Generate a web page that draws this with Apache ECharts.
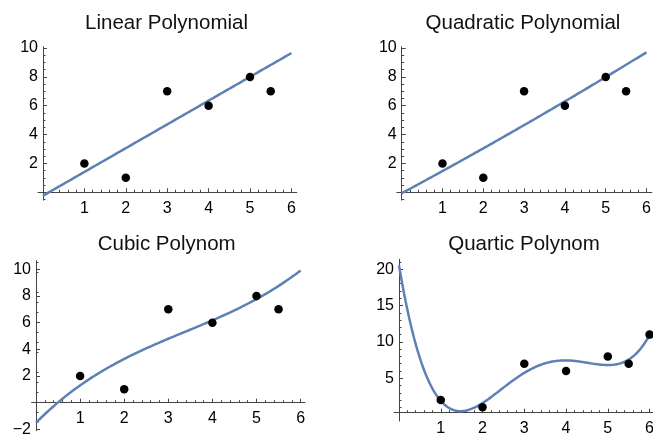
<!DOCTYPE html>
<html>
<head>
<meta charset="utf-8">
<script src="https://cdn.jsdelivr.net/npm/echarts@6/dist/echarts.min.js"></script>
<style>
  html, body { margin: 0; padding: 0; background: #ffffff; }
  #chart { width: 653px; height: 437px; }
</style>
</head>
<body>
<div id="chart"></div>
<script>
// Observed points (x, y)
const pointX = [1, 2, 3, 4, 5, 5.5, 6];
const pointY = [2, 1, 7, 6, 8, 7, 11];

// Panel titles and fit degrees
const panelTitles = ['Linear Polynomial', 'Quadratic Polynomial', 'Cubic Polynom', 'Quartic Polynom'];
const fitDegrees = [1, 2, 3, 4];

// Tick labels
const xTickValues = [1, 2, 3, 4, 5, 6];
const yTicksLinear = [2, 4, 6, 8, 10];
const yTicksQuadratic = [2, 4, 6, 8, 10];
const yTicksCubic = [-2, 2, 4, 6, 8, 10];
const yTicksQuartic = [5, 10, 15, 20];

// Least-squares polynomial fit, coefficients from constant term upward
function polyFit(xs, ys, deg) {
  const n = deg + 1;
  const A = [];
  for (let i = 0; i < n; i++) A.push(new Array(n + 1).fill(0));
  for (let k = 0; k < xs.length; k++) {
    for (let i = 0; i < n; i++) {
      for (let j = 0; j < n; j++) A[i][j] += Math.pow(xs[k], i + j);
      A[i][n] += ys[k] * Math.pow(xs[k], i);
    }
  }
  for (let i = 0; i < n; i++) {
    let p = i;
    for (let r = i + 1; r < n; r++) if (Math.abs(A[r][i]) > Math.abs(A[p][i])) p = r;
    const tmp = A[i]; A[i] = A[p]; A[p] = tmp;
    for (let r = 0; r < n; r++) {
      if (r === i) continue;
      const f = A[r][i] / A[i][i];
      for (let c = i; c <= n; c++) A[r][c] -= f * A[i][c];
    }
  }
  return A.map((row, i) => row[n] / row[i]);
}

function fitCurve(deg) {
  const coef = polyFit(pointX, pointY, deg);
  const pts = [];
  const steps = 300;
  for (let s = 0; s <= steps; s++) {
    const x = 6 * s / steps;
    let y = 0;
    for (let i = coef.length - 1; i >= 0; i--) y = y * x + coef[i];
    pts.push([x, y]);
  }
  return pts;
}

// Typographic minus for negative tick labels
const tickText = v => String(v).replace('-', '\u2212');

const FONT = "'Liberation Sans', Arial, sans-serif";
const AXIS_COLOR = '#444444';
const LABEL_COLOR = '#000000';
const CURVE_COLOR = '#5E81B5';
const TICK_FONT = 16;
const TITLE_FONT = 20.5;
const X_LABEL_GAP = 8;   // from the horizontal axis line to its labels
const Y_LABEL_GAP = 5;   // from the vertical axis line to its labels

// Panel frames: pixel box of each plot region and its value ranges
const panels = [
  { left: 38, top: 46.6, width: 258.8, height: 153.6, x: [-0.12, 6.13], y: [-0.55, 10.1], axisLevel: 0, yTicks: yTicksLinear, yMinor: 4, titleX: 166.5, titleY: 13.2 },
  { left: 396.8, top: 46.6, width: 255, height: 153.6, x: [-0.12, 6.13], y: [-0.55, 10.1], axisLevel: 0, yTicks: yTicksQuadratic, yMinor: 4, titleX: 523, titleY: 12.8 },
  { left: 31.6, top: 260.7, width: 273.4, height: 170, x: [-0.1, 6.1], y: [-2.1, 10.65], axisLevel: 0, yTicks: yTicksCubic, yMinor: 4, titleX: 166.7, titleY: 234.3 },
  // The quartic panel's horizontal axis sits slightly above zero
  { left: 394, top: 259.3, width: 261, height: 161.7, x: [-0.12, 6.13], y: [-0.88, 21.36], axisLevel: 0.26, yTicks: yTicksQuartic, yMinor: 5, titleX: 524, titleY: 234.3 }
];

const grid = [], xAxis = [], yAxis = [], series = [], title = [];

panels.forEach((p, i) => {
  // distance of each crossing axis line from the grid edge its labels start from
  const xAxisLift = p.height * (p.axisLevel - p.y[0]) / (p.y[1] - p.y[0]);
  const yAxisShift = p.width * (0 - p.x[0]) / (p.x[1] - p.x[0]);

  grid.push({ left: p.left, top: p.top, width: p.width, height: p.height, containLabel: false, outerBoundsMode: 'none' });
  title.push({
    text: panelTitles[i], left: p.titleX, top: p.titleY, textAlign: 'center', padding: 0,
    textStyle: { fontFamily: FONT, fontSize: TITLE_FONT, fontWeight: 'normal', color: '#111111' }
  });
  const xa = {
    type: 'value', gridIndex: i, min: p.x[0], max: p.x[1],
    splitLine: { show: false },
    axisLine: { show: true, onZero: true, lineStyle: { color: AXIS_COLOR, width: 1 } },
    axisTick: { show: true, inside: true, length: 4, customValues: xTickValues, lineStyle: { color: AXIS_COLOR, width: 1 } },
    minorTick: { show: true, splitNumber: 5, length: 2.5, lineStyle: { color: AXIS_COLOR, width: 1 } },
    axisLabel: { customValues: xTickValues, formatter: tickText, margin: X_LABEL_GAP - xAxisLift, fontFamily: FONT, fontSize: TICK_FONT, color: LABEL_COLOR }
  };
  if (p.axisLevel !== 0) xa.axisLine.onZeroAxisIndex = panels.length;
  xAxis.push(xa);
  yAxis.push({
    type: 'value', gridIndex: i, min: p.y[0], max: p.y[1],
    splitLine: { show: false },
    axisLine: { show: true, onZero: true, lineStyle: { color: AXIS_COLOR, width: 1 } },
    axisTick: { show: true, inside: true, length: 4, customValues: p.yTicks, lineStyle: { color: AXIS_COLOR, width: 1 } },
    minorTick: { show: true, splitNumber: p.yMinor, length: 2.5, lineStyle: { color: AXIS_COLOR, width: 1 } },
    axisLabel: { customValues: p.yTicks, formatter: tickText, margin: Y_LABEL_GAP - yAxisShift, fontFamily: FONT, fontSize: TICK_FONT, color: LABEL_COLOR }
  });
  series.push({
    type: 'line', xAxisIndex: i, yAxisIndex: i, data: fitCurve(fitDegrees[i]),
    showSymbol: false, symbol: 'none', smooth: false, silent: true, clip: true,
    lineStyle: { color: CURVE_COLOR, width: 2.5 }, z: 2
  });
  series.push({
    type: 'scatter', xAxisIndex: i, yAxisIndex: i,
    data: pointX.map((x, k) => [x, pointY[k]]),
    symbol: 'circle', symbolSize: 8.5, clip: true, silent: true,
    itemStyle: { color: '#000000', opacity: 1 }, z: 3
  });
});

// Reference axis used only to place the quartic panel's horizontal axis
yAxis.push({
  type: 'value', gridIndex: 3, show: false,
  min: panels[3].y[0] - panels[3].axisLevel, max: panels[3].y[1] - panels[3].axisLevel
});

const chart = echarts.init(document.getElementById('chart'), null, { renderer: 'canvas' });
chart.setOption({
  animation: false,
  backgroundColor: '#ffffff',
  title, grid, xAxis, yAxis, series
});
</script>
</body>
</html>
